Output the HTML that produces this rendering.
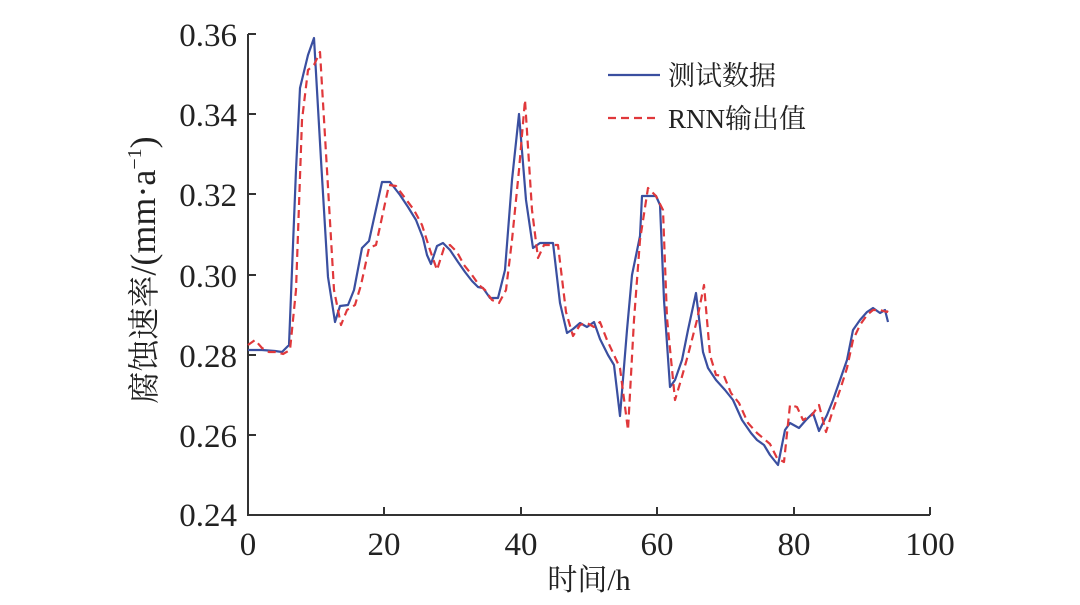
<!DOCTYPE html>
<html><head><meta charset="utf-8"><style>
body{margin:0;background:#fff;}
svg text{font-family:"Liberation Serif","Noto Serif CJK SC",serif;fill:#222;}
</style></head><body>
<svg width="1080" height="600" viewBox="0 0 1080 600" xmlns="http://www.w3.org/2000/svg">
<g stroke="#333" stroke-width="2" fill="none">
<path d="M248,34 V515 H930"/>
<path d="M248,34 h8 M248,114 h8 M248,194 h8 M248,275 h8 M248,355 h8 M248,435 h8"/>
<path d="M384,515 v-8 M521,515 v-8 M657,515 v-8 M794,515 v-8 M930,515 v-8"/>
</g>
<g font-size="33" text-anchor="end">
<text x="237" y="46">0.36</text><text x="237" y="126">0.34</text><text x="237" y="206">0.32</text>
<text x="237" y="287">0.30</text><text x="237" y="367">0.28</text><text x="237" y="447">0.26</text><text x="237" y="526">0.24</text>
</g>
<g font-size="33" text-anchor="middle">
<text x="248" y="555">0</text><text x="384" y="555">20</text><text x="521" y="555">40</text><text x="657" y="555">60</text><text x="794" y="555">80</text><text x="930" y="555">100</text>
</g>
<text font-size="30" text-anchor="middle" x="589" y="590">时间/h</text>
<text font-size="32" text-anchor="middle" transform="translate(155,270) rotate(-90)">腐蚀速率<tspan font-size="36">/(mm·a</tspan><tspan font-size="20" dy="-14">−1</tspan><tspan font-size="36" dy="14">)</tspan></text>
<polyline fill="none" stroke="#3a4fa0" stroke-width="2.2" stroke-linejoin="round" points="248,350 262,350 275,351 282,352 289,345 296,170 300,88 308,55 314,38 321,160 328,277 335,322 340,306 348,305 354,290 362,248 369,241 382,182 390,182 400,195 408,207 416,220 423,238 427,255 431,264 437,246 443,243 450,250 458,262 465,272 472,281 478,287 483,288 490,298 498,298 505,270 512,180 519,114 526,200 533,248 540,243 553,243 560,303 567,333 573,329 580,323 587,327 594,322 600,339 608,355 614,365 620,416 627,330 632,275 640,236 642,196 656,196 660,205 664,300 670,387 675,380 682,360 688,330 696,293 703,352 708,368 716,380 725,390 733,400 742,420 751,433 757,440 764,445 770,455 778,465 785,430 790,423 799,428 806,420 813,413 819,431 827,415 833,400 840,380 847,360 853,330 860,320 867,312 873,308 880,313 885,310 888,322"/>
<polyline fill="none" stroke="#e0383b" stroke-width="2.2" stroke-dasharray="8,5" stroke-linejoin="round" points="248,345 255,340 262,348 269,352 276,352 283,354 290,350 296,290 302,120 308,70 314,65 320,52 327,170 334,290 341,325 347,310 355,305 361,285 369,248 376,245 389,185 396,186 405,198 414,210 422,225 430,250 437,270 444,248 450,245 457,252 464,265 472,275 479,285 485,290 492,300 499,303 506,290 512,240 519,170 525,100 532,210 538,258 544,245 558,245 566,312 573,336 580,325 587,323 594,327 600,322 607,340 614,355 620,368 628,430 634,320 640,240 648,188 656,196 663,210 667,318 675,400 681,380 688,355 697,320 704,285 710,355 716,375 724,376 731,393 739,403 748,423 757,433 763,438 770,444 777,458 784,462 790,405 797,407 803,420 812,415 819,405 826,432 833,410 840,390 847,368 853,340 860,325 867,315 873,310 880,310 887,312 889,308"/>
<line x1="608" y1="75" x2="660" y2="75" stroke="#3a4fa0" stroke-width="2.2"/>
<line x1="608" y1="118" x2="660" y2="118" stroke="#e0383b" stroke-width="2.2" stroke-dasharray="8,5"/>
<g font-size="27"><text x="668" y="85">测试数据</text><text x="668" y="128">RNN输出值</text></g>
</svg>
</body></html>
